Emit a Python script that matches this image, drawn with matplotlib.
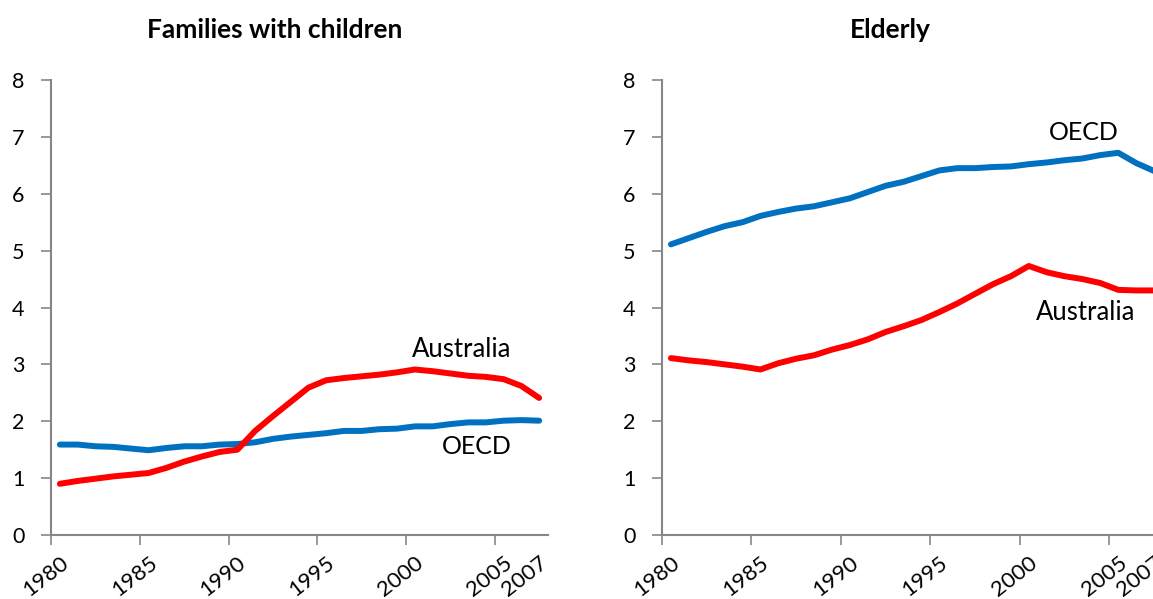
import matplotlib
matplotlib.use('Agg')
import matplotlib.pyplot as plt
import numpy as np

# years 1980..2007, one value per year
years = list(range(1980, 2008))

fam_australia = [0.90, 0.95, 0.99, 1.03, 1.06, 1.09, 1.18, 1.29, 1.38, 1.46,
                 1.50, 1.83, 2.09, 2.34, 2.59, 2.72, 2.76, 2.79, 2.82, 2.86,
                 2.91, 2.88, 2.84, 2.80, 2.78, 2.74, 2.62, 2.41]
fam_oecd = [1.59, 1.59, 1.56, 1.55, 1.52, 1.49, 1.53, 1.56, 1.56, 1.59,
            1.60, 1.63, 1.69, 1.73, 1.76, 1.79, 1.83, 1.83, 1.86, 1.87,
            1.91, 1.91, 1.95, 1.98, 1.98, 2.01, 2.02, 2.01]

eld_australia = [3.11, 3.07, 3.04, 3.00, 2.96, 2.91, 3.02, 3.10, 3.16, 3.26,
                 3.34, 3.44, 3.57, 3.67, 3.78, 3.92, 4.07, 4.24, 4.41, 4.55,
                 4.73, 4.62, 4.55, 4.50, 4.43, 4.31, 4.30, 4.30]
eld_oecd = [5.11, 5.22, 5.33, 5.43, 5.50, 5.61, 5.68, 5.74, 5.78, 5.85,
            5.92, 6.03, 6.14, 6.21, 6.31, 6.41, 6.45, 6.45, 6.47, 6.48,
            6.52, 6.55, 6.59, 6.62, 6.68, 6.72, 6.54, 6.40]

tick_years = [1980, 1985, 1990, 1995, 2000, 2005, 2007]

RED = '#FF0000'
BLUE = '#0070C0'
GREY = '#868686'
FONT = 'Lato'

plt.rcParams['font.family'] = [FONT, 'DejaVu Sans']

fig = plt.figure(figsize=(11.53, 5.99), dpi=100)


def setup(ax):
    n = len(years)
    x = np.arange(n)
    ax.set_xlim(-0.5, n - 0.5)
    ax.set_ylim(0, 8)
    for s in ['top', 'right']:
        ax.spines[s].set_visible(False)
    for s in ['left', 'bottom']:
        ax.spines[s].set_color(GREY)
        ax.spines[s].set_linewidth(1.5)
    ax.set_yticks(range(0, 9))
    ax.tick_params(axis='y', length=7, width=1.2, color=GREY, pad=12,
                   labelsize=15.5)
    pos = [years.index(y) for y in tick_years]
    ax.set_xticks(pos)
    ax.set_xticklabels([str(y) for y in tick_years], rotation=38,
                       ha='right', va='top', rotation_mode='anchor')
    ax.tick_params(axis='x', which='major', length=0, pad=13, labelsize=16)
    ax.set_xticks(np.arange(-0.5, n - 1, 5), minor=True)
    ax.tick_params(axis='x', which='minor', length=7, width=1.2, color=GREY)
    return x


ax1 = fig.add_axes([51 / 1153, 64 / 599, 497 / 1153, 455 / 599])
x = setup(ax1)
ax1.plot(x, fam_oecd, color=BLUE, lw=4.3, solid_capstyle='round')
ax1.plot(x, fam_australia, color=RED, lw=4.3, solid_capstyle='round')
ax1.text(22.65, 3.27, 'Australia', ha='center', va='center', fontsize=18.5)
ax1.text(23.5, 1.55, 'OECD', ha='center', va='center', fontsize=18)

ax2 = fig.add_axes([662 / 1153, 64 / 599, 501 / 1153, 455 / 599])
x = setup(ax2)
ax2.plot(x, eld_oecd, color=BLUE, lw=4.3, solid_capstyle='round')
ax2.plot(x, eld_australia, color=RED, lw=4.3, solid_capstyle='round')
ax2.text(23.1, 7.07, 'OECD', ha='center', va='center', fontsize=18)
ax2.text(23.2, 3.92, 'Australia', ha='center', va='center', fontsize=18.5)

fig.text(275 / 1153, 1 - 30 / 599, 'Families with children', ha='center',
         va='center', fontsize=19, fontweight='bold')
fig.text(890 / 1153, 1 - 30 / 599, 'Elderly', ha='center', va='center',
         fontsize=19, fontweight='bold')

fig.savefig('out.png', dpi=100)
